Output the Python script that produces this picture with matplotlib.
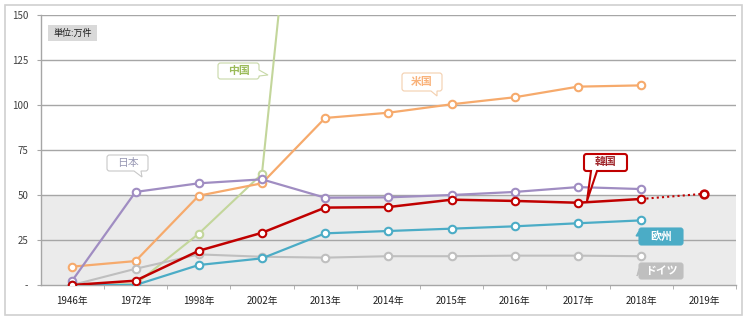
import numpy as np
import matplotlib
matplotlib.use("Agg")
import matplotlib.pyplot as plt
from matplotlib.path import Path
from matplotlib.patches import PathPatch, Rectangle

plt.rcParams['font.family'] = ['Noto Sans CJK JP', 'DejaVu Sans']

# ---- data (unit: 10,000 cases) ----
years = ["1946年", "1972年", "1998年", "2002年", "2013年", "2014年",
         "2015年", "2016年", "2017年", "2018年", "2019年"]
japan   = [2.5, 51.7, 56.5, 58.7, 48.5, 48.7, 50.0, 51.7, 54.4, 53.3, np.nan]
usa     = [10.2, 13.3, 49.6, 56.5, 92.8, 95.7, 100.4, 104.3, 110.2, 110.9, np.nan]
china   = [0.0, 0.5, 28.5, 61.7, 398.0, 430.0, 470.0, 520.0, 560.0, 600.0, np.nan]
korea   = [0.0, 2.4, 19.0, 29.0, 43.0, 43.3, 47.4, 46.7, 45.7, 47.8, np.nan]
korea_2019 = 50.7
europe  = [0.0, 0.0, 11.1, 14.8, 28.7, 30.0, 31.3, 32.6, 34.3, 35.9, np.nan]
germany = [0.0, 9.0, 17.0, 15.7, 15.2, 16.0, 16.0, 16.3, 16.3, 16.0, np.nan]
yticks = [0, 25, 50, 75, 100, 125, 150]
ytick_labels = ["-", "25", "50", "75", "100", "125", "150"]

W, H = 750, 322
fig = plt.figure(figsize=(W / 100, H / 100), dpi=100)
ax = fig.add_axes([40.7 / W, 1 - 285 / H, (736 - 40.7) / W, (285 - 15) / H])

x = np.arange(len(years))

# shaded band below 50
ax.axhspan(0, 50, color="#ebebeb", zorder=0, lw=0)
for yv in yticks[1:]:
    ax.axhline(yv, color="#a6a6a6", lw=1.0, zorder=1)

series = [
    (china, "#c3d69b", 1.5),
    (usa, "#f6aa6c", 1.6),
    (germany, "#bfbfbf", 1.5),
    (japan, "#a08dc2", 1.6),
    (europe, "#4bacc6", 1.6),
    (korea, "#c00000", 1.8),
]
for vals, col, lw in series:
    ax.plot(x, vals, color=col, lw=lw, marker="o", ms=5.4,
            mfc="white", mec=col, mew=1.5, zorder=3, clip_on=True)

# Korea 2019 forecast (dotted)
ax.plot([x[9], x[10]], [korea[9], korea_2019], color="#c00000", lw=1.5,
        ls=(0, (1, 1.5)), zorder=2)
ax.plot([x[10]], [korea_2019], color="#c00000", marker="o", ms=5.6,
        mfc="white", mec="#c00000", mew=1.8, zorder=3)

ax.set_xlim(-0.5, len(years) - 0.5)
ax.set_ylim(0, 150)
ax.set_yticks(yticks)
ax.set_yticklabels(ytick_labels, fontsize=7, color="#404040")
ax.set_xticks(x)
ax.set_xticklabels(years, fontsize=7, color="#202020")
ax.set_xticks(np.arange(0.5, len(years), 1.0), minor=True)
ax.tick_params(axis="x", which="major", length=0, pad=8)
ax.tick_params(axis="x", which="minor", length=3, color="#a6a6a6", direction="out")
ax.tick_params(axis="y", length=3, color="#a6a6a6", pad=6)
for s in ["top", "right"]:
    ax.spines[s].set_visible(False)
for s in ["left", "bottom"]:
    ax.spines[s].set_color("#a6a6a6")
    ax.spines[s].set_linewidth(1.0)
ax.set_facecolor("white")

# outer frame
fig.patches.append(Rectangle((5 / W, 1 - 315 / H), 737 / W, 310 / H,
                             transform=fig.transFigure, fill=False,
                             ec="#d0d0d0", lw=1.2, zorder=0))


def fx(px):
    return px / W


def fy(py):
    return 1 - py / H


def callout(box, side, a, b, tip, text, fc, ec, tc, lw=0.8, weight="normal",
            fs=7.8, r=2.5):
    x0, y0, x1, y1 = box
    pts = []
    codes = []

    def line(p):
        pts.append(p)
        codes.append(Path.LINETO)

    def corner(c, p_end):
        pts.append(c)
        codes.append(Path.CURVE3)
        pts.append(p_end)
        codes.append(Path.CURVE3)

    pts.append((x0 + r, y0))
    codes.append(Path.MOVETO)
    line((x1 - r, y0))
    corner((x1, y0), (x1, y0 + r))
    if side == "right":
        line((x1, a)); line(tip); line((x1, b))
    line((x1, y1 - r))
    corner((x1, y1), (x1 - r, y1))
    if side == "bottom":
        line((b, y1)); line(tip); line((a, y1))
    line((x0 + r, y1))
    corner((x0, y1), (x0, y1 - r))
    if side == "left":
        line((x0, b)); line(tip); line((x0, a))
    line((x0, y0 + r))
    corner((x0, y0), (x0 + r, y0))
    pts.append((x0 + r, y0))
    codes.append(Path.CLOSEPOLY)
    verts = [(fx(px), fy(py)) for px, py in pts]
    patch = PathPatch(Path(verts, codes), transform=fig.transFigure,
                      fc=fc, ec=ec, lw=lw, zorder=10)
    fig.patches.append(patch)
    fig.text(fx((x0 + x1) / 2), fy((y0 + y1) / 2), text, ha="center",
             va="center", fontsize=fs, color=tc, weight=weight, zorder=11)


callout((107, 155, 148, 171), "bottom", 134, 141, (142, 177), "日本",
        "white", "#c8c8c8", "#9a9ab5")
callout((218, 63, 259, 79), "right", 70, 76, (268, 75), "中国",
        "white", "#c8d9a8", "#9bbb59", weight="bold")
callout((402, 73, 442, 91), "bottom", 431, 437, (437, 96), "米国",
        "white", "#f3cfae", "#f9b27a", weight="bold")
callout((584, 154, 627, 171), "bottom", 591, 597, (587, 201), "韓国",
        "white", "#c00000", "#a0282d", lw=1.5, weight="bold")
callout((639, 228, 683, 245), "left", 231, 236, (636, 236), "欧州",
        "#4bacc6", "#4bacc6", "white", weight="bold")
callout((639, 263, 683, 279), "left", 268, 272, (637, 276), "ドイツ",
        "#bfbfbf", "#bfbfbf", "white", weight="bold")

# unit label
fig.patches.append(Rectangle((fx(48), fy(41)), 49 / W, 16 / H,
                             transform=fig.transFigure, fc="#d9d9d9",
                             ec="none", zorder=10))
fig.text(fx(72.5), fy(33), "単位:万件", ha="center", va="center",
         fontsize=6.5, color="#202020", zorder=11)

fig.savefig("out.png", dpi=100)
